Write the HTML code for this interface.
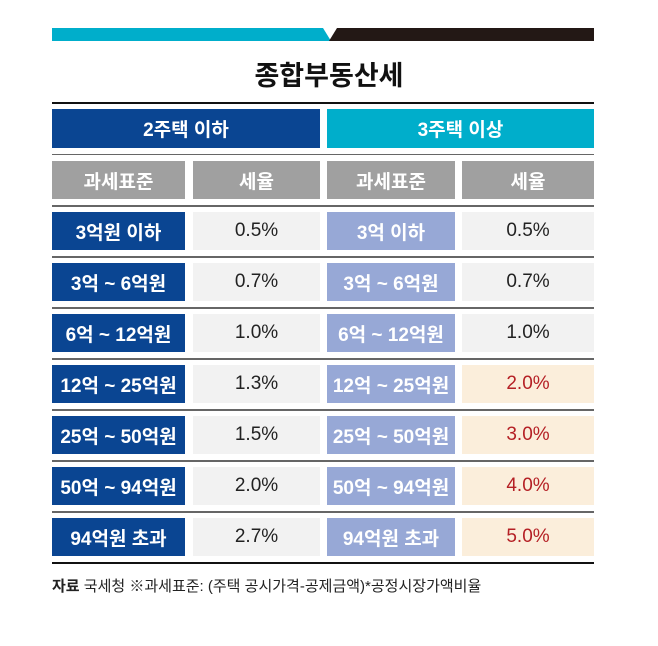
<!DOCTYPE html>
<html><head><meta charset="utf-8"><style>
body{margin:0;width:658px;height:646px;background:#fff;position:relative;overflow:hidden;font-family:"Liberation Sans","Noto Sans CJK KR",sans-serif}
.a{position:absolute}
.c{position:absolute;display:flex;align-items:center;justify-content:center;font-size:19px}
.ln{position:absolute;left:52px;width:542px;height:2px;background:#666}
</style></head><body>
<svg class="a" style="left:52px;top:28px" width="542" height="13">
<polygon points="0,0 271,0 279,13 0,13" fill="#00aecb"/>
<polygon points="277,13 285,0 542,0 542,13" fill="#231815"/>
</svg>
<div class="c" style="left:0;width:658px;top:55px;height:36px;font-size:27px;font-weight:bold;color:#111">종합부동산세</div>
<div class="a" style="left:52px;width:542px;top:102px;height:2px;background:#111"></div>
<div class="c" style="left:52px;width:268px;top:109px;height:39px;background:#0a4592;color:#fff;font-weight:bold">2주택 이하</div>
<div class="c" style="left:327px;width:267px;top:109px;height:39px;background:#00aecb;color:#fff;font-weight:bold">3주택 이상</div>
<div class="ln" style="top:154px;height:1px"></div>
<div class="c" style="left:52px;width:133px;top:161px;height:38px;background:#a0a0a0;color:#fff;font-weight:bold">과세표준</div>
<div class="c" style="left:193px;width:127px;top:161px;height:38px;background:#a0a0a0;color:#fff;font-weight:bold">세율</div>
<div class="c" style="left:327px;width:128px;top:161px;height:38px;background:#a0a0a0;color:#fff;font-weight:bold">과세표준</div>
<div class="c" style="left:462px;width:132px;top:161px;height:38px;background:#a0a0a0;color:#fff;font-weight:bold">세율</div>
<div id="rows"></div>
<div class="a" style="left:52px;width:542px;top:562px;height:2px;background:#111"></div>
<div class="a" style="left:52px;top:575px;font-size:15px;color:#222;white-space:nowrap"><b>자료</b> 국세청 ※과세표준: (주택 공시가격-공제금액)*공정시장가액비율</div>
<script>
const base1=["3억원 이하","3억 ~ 6억원","6억 ~ 12억원","12억 ~ 25억원","25억 ~ 50억원","50억 ~ 94억원","94억원 초과"];
const base2=["3억 이하","3억 ~ 6억원","6억 ~ 12억원","12억 ~ 25억원","25억 ~ 50억원","50억 ~ 94억원","94억원 초과"];
const rate1=[0.5,0.7,1.0,1.3,1.5,2.0,2.7];
const rate2=[0.5,0.7,1.0,2.0,3.0,4.0,5.0];
const root=document.getElementById('rows');
function cell(x,w,y,bg,color,txt,name,bold){
 const d=document.createElement('div');d.className='c';
 d.style.cssText=`left:${x}px;width:${w}px;top:${y}px;height:38px;background:${bg};color:${color};${bold?'font-weight:bold;':''}`;
 d.textContent=txt;
 
 
 root.appendChild(d);
}
base1.forEach((b,i)=>{
 const y=212+i*51;
 const l=document.createElement('div');l.className='ln';l.style.top=(y-7)+'px';
 
 
 root.appendChild(l);
 cell(52,133,y,'#0a4592','#fff',b,'tax-base-2-homes',true);
 cell(193,127,y,'#f2f2f2','#222',rate1[i].toFixed(1)+'%','rate-2-homes',false);
 cell(327,128,y,'#97a8d6','#fff',base2[i],'tax-base-3-homes',true);
 const hi=rate2[i]!==rate1[i];
 cell(462,132,y,hi?'#fbeedb':'#f2f2f2',hi?'#b52025':'#222',rate2[i].toFixed(1)+'%','rate-3-homes',false);
});
</script>
</body></html>
